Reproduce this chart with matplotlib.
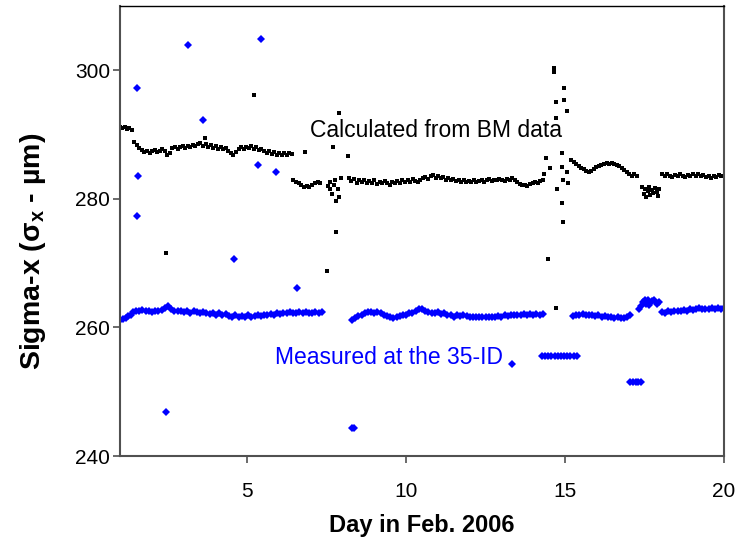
import numpy as np
import matplotlib
matplotlib.use("Agg")
import matplotlib.pyplot as plt

plt.rcParams["font.family"] = ["Liberation Sans", "DejaVu Sans"]

# ---- Calculated from BM data (black dots) ----
# regular-sampled stretches: (first day, last day, values)
bm_segments = [
    (1.00, 1.37, [291.2, 291.0, 291.1, 290.9, 291.0, 290.7]),
    (1.45, 6.41, [288.9, 288.4, 287.9, 287.6, 287.3, 287.5, 287.2, 287.4, 287.6, 287.3,
                  287.5, 287.8, 287.4, 286.9, 287.2, 287.9, 288.0, 287.8, 288.1, 288.2,
                  287.9, 288.3, 288.1, 288.4, 288.2, 288.5, 288.7, 288.3, 288.6, 288.0,
                  288.4, 287.9, 288.2, 287.8, 288.1, 287.7, 287.9, 287.5, 287.2, 286.8,
                  287.3, 287.8, 288.0, 287.7, 288.1, 287.9, 288.2, 287.8, 288.0, 287.6,
                  287.8, 287.5, 287.2, 287.4, 287.0, 287.3, 286.9, 287.1, 286.8, 287.2,
                  286.9, 287.2, 287.0]),
    (6.45, 7.30, [283.0, 282.7, 282.4, 282.2, 281.9, 282.0, 281.8, 282.1, 282.4, 282.6, 282.4]),
    (8.20, 14.30, [283.2, 282.8, 283.1, 282.5, 282.9, 282.6, 283.0, 282.4, 282.8, 282.5,
                   282.9, 282.3, 282.7, 282.4, 282.8, 282.5, 282.2, 282.6, 282.4, 282.8,
                   282.5, 282.9, 282.6, 283.0, 282.7, 283.1, 282.8, 282.6, 282.9, 283.2,
                   283.4, 283.1, 283.5, 283.7, 283.3, 283.6, 283.2, 283.4, 283.0, 283.3,
                   282.9, 283.1, 282.8, 283.0, 282.7, 282.9, 282.6, 282.8, 282.7, 282.9,
                   282.6, 282.8, 283.0, 282.7, 282.9, 283.1, 282.8, 283.0, 282.9, 283.1,
                   283.0, 282.8, 283.1, 282.9, 283.2, 283.0, 282.6, 282.3, 282.1, 282.2,
                   282.0, 282.3, 282.4, 282.6, 282.5, 282.8, 283.0]),
    (15.20, 17.25, [286.1, 285.8, 285.4, 285.1, 284.8, 284.6, 284.3, 284.2, 284.4, 284.6,
                    284.9, 285.1, 285.3, 285.5, 285.6, 285.5, 285.6, 285.4, 285.3, 285.1,
                    284.8, 284.5, 284.2, 283.9, 283.6, 283.8, 283.5]),
    (18.05, 20.00, [283.8, 283.5, 283.9, 283.6, 283.4, 283.7, 283.5, 283.8, 283.6, 283.4,
                    283.7, 283.5, 283.9, 283.6, 283.8, 283.5, 283.7, 283.4, 283.6, 283.3,
                    283.6, 283.4, 283.7, 283.5, 283.6]),
]
# scattered BM points (gaps, spike near day 15, outliers)
bm_day = [7.55, 7.60, 7.62, 7.68, 7.72, 7.75, 7.80, 7.85, 7.90, 7.95,
          14.33, 14.40, 14.46, 14.52, 14.65, 14.65, 14.71, 14.71, 14.70, 14.75,
          14.90, 14.90, 14.90, 14.93, 14.93, 14.96, 14.96, 15.06, 15.06, 15.10,
          17.42, 17.48, 17.50, 17.55, 17.60, 17.63, 17.68, 17.72, 17.78, 17.82,
          17.88, 17.93, 17.97,
          2.45, 5.21, 6.82, 7.70, 7.89, 8.17, 7.50, 7.80, 3.67]
bm_sigma = [282.0, 281.5, 282.6, 280.8, 282.2, 283.0, 279.7, 281.6, 280.3, 283.3,
            283.8, 286.3, 270.7, 284.8, 300.4, 299.8, 295.0, 292.6, 263.0, 281.6,
            287.2, 285.0, 279.3, 283.0, 276.4, 297.2, 295.4, 293.7, 284.1, 282.5,
            281.9, 280.8, 281.5, 280.3, 281.2, 281.8, 280.6, 281.4, 280.9, 281.7,
            281.0, 280.5, 281.6,
            271.6, 296.2, 287.3, 288.1, 293.3, 286.6, 268.8, 274.9, 289.5]

# ---- Measured at the 35-ID (blue diamonds) ----
id_segments = [
    (1.00, 1.35, [261.2, 261.3, 261.4, 261.8, 262.0]),
    (1.40, 7.35, [262.4, 262.6, 262.5, 262.7, 262.5, 262.6, 262.4, 262.6, 262.5, 262.7,
                  263.0, 263.3, 262.9, 262.6, 262.5, 262.6, 262.4, 262.5, 262.3, 262.5,
                  262.4, 262.2, 262.4, 262.3, 262.1, 262.3, 262.0, 262.2, 261.9, 262.1,
                  261.8, 261.7, 261.9, 261.6, 261.8, 261.7, 261.9, 261.7, 261.8, 261.9,
                  261.8, 262.0, 261.9, 262.1, 262.0, 262.2, 262.1, 262.3, 262.2, 262.4,
                  262.3, 262.2, 262.4, 262.3, 262.4, 262.2, 262.3, 262.4, 262.3, 262.4]),
    (8.30, 14.30, [261.2, 261.5, 261.8, 262.0, 262.2, 262.4, 262.4, 262.3, 262.4, 262.2,
                   262.0, 261.8, 261.6, 261.5, 261.7, 261.8, 261.9, 262.0, 262.2, 262.3,
                   262.5, 262.8, 262.9, 262.6, 262.4, 262.3, 262.2, 262.4, 262.1, 262.2,
                   261.9, 262.0, 261.7, 261.9, 261.8, 262.0, 261.8, 261.7, 261.6, 261.7,
                   261.6, 261.7, 261.6, 261.7, 261.6, 261.7, 261.8, 261.7, 261.9, 261.8,
                   262.0, 261.9, 262.0, 261.9, 262.1, 262.0, 262.1, 262.0, 262.1, 262.0,
                   262.1]),
    (14.27, 15.37, [255.6] * 12),
    (15.25, 17.05, [261.8, 262.0, 261.9, 262.1, 262.0, 262.0, 261.9, 261.8, 261.9, 261.7,
                    261.8, 261.6, 261.7, 261.5, 261.6, 261.5, 261.4, 261.6, 261.9]),
    (17.04, 17.40, [251.5] * 5),
    (18.05, 20.00, [262.4, 262.3, 262.5, 262.4, 262.5, 262.6, 262.5, 262.7, 262.6, 262.8,
                    262.7, 262.9, 263.0, 262.8, 262.9, 262.8, 263.0, 262.9, 263.0, 262.9,
                    263.0]),
]
id_day = [17.32, 17.38, 17.45, 17.50, 17.55, 17.60, 17.65, 17.72, 17.80, 17.88, 17.95,
          1.53, 3.14, 5.43, 3.62, 1.57, 1.53, 5.34, 5.90, 4.58, 6.57, 2.45, 8.31, 8.36, 13.33]
id_sigma = [262.8, 263.4, 264.0, 264.3, 263.7, 264.2, 263.5, 264.1, 264.3, 263.6, 263.9,
            297.2, 303.9, 304.8, 292.3, 283.6, 277.4, 285.2, 284.2, 270.7, 266.2, 246.9,
            244.4, 244.4, 254.3]


def collect(segments, extra_x, extra_y):
    xs, ys = [], []
    for start, end, vals in segments:
        xs.append(np.linspace(start, end, len(vals)))
        ys.append(np.asarray(vals))
    xs.append(np.asarray(extra_x))
    ys.append(np.asarray(extra_y))
    return np.concatenate(xs), np.concatenate(ys)


bm_x, bm_y = collect(bm_segments, bm_day, bm_sigma)
id_x, id_y = collect(id_segments, id_day, id_sigma)

fig = plt.figure(figsize=(7.48, 5.52), dpi=100)
ax = fig.add_axes([120 / 748, 96 / 552, 604 / 748, 450 / 552])

ax.plot(id_x, id_y, linestyle="none", marker="D", markersize=4.4,
        color="#0000ff", markeredgewidth=0)
ax.plot(bm_x, bm_y, linestyle="none", marker="s", markersize=2.4,
        color="black", markeredgewidth=0)

ax.text(6.97, 290.6, "Calculated from BM data", fontsize=16.5, color="black",
        va="center", ha="left")
ax.text(5.87, 255.4, "Measured at the 35-ID", fontsize=16.5, color="#0000ff",
        va="center", ha="left")

ax.set_xlim(1, 20)
ax.set_ylim(240, 310)
ax.set_xticks([5, 10, 15, 20])
ax.set_yticks([240, 260, 280, 300])
ax.tick_params(axis="x", direction="out", length=5, width=1.2, color="#505050",
               labelsize=15, pad=14)
ax.tick_params(axis="y", direction="out", length=5, width=1.2, color="#505050",
               labelsize=15, pad=2)

for side in ["left", "bottom", "right"]:
    ax.spines[side].set_color("#505050")
    ax.spines[side].set_linewidth(1.5)
ax.spines["top"].set_color("black")
ax.spines["top"].set_linewidth(1.0)

ax.set_xlabel("Day in Feb. 2006", fontsize=17, fontweight="bold")
ax.set_ylabel("Sigma-x (σ$_\\mathregular{x}$ - µm)", fontsize=20.5, fontweight="bold")
ax.xaxis.set_label_coords(0.5, -0.128)
ax.yaxis.set_label_coords(-0.12, 0.455)

fig.savefig("out.png", dpi=100)
